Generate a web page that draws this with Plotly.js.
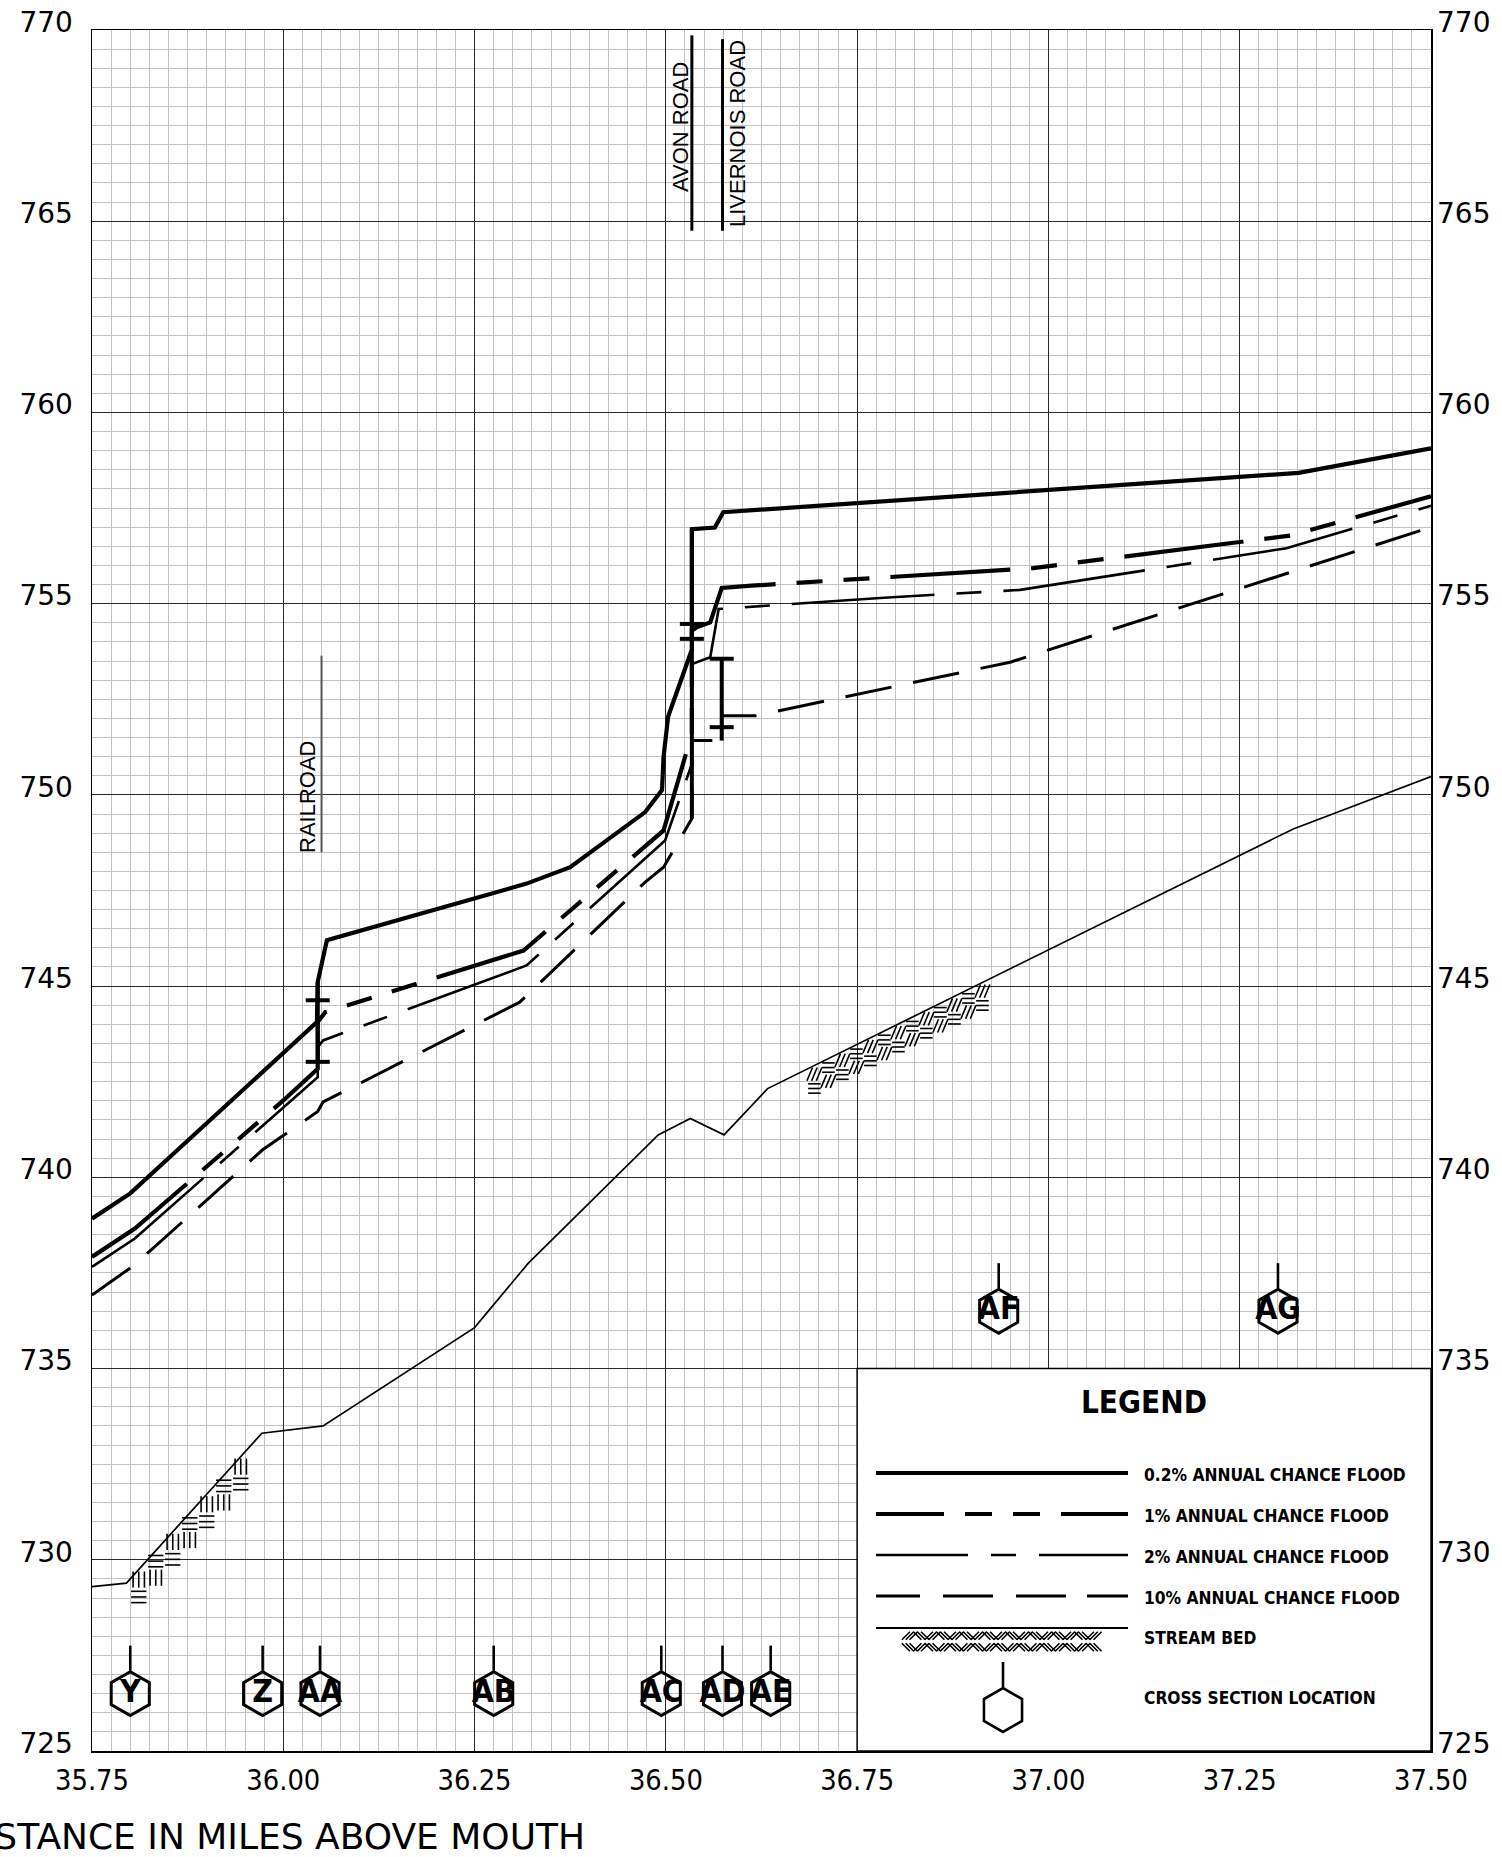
<!DOCTYPE html>
<html>
<head>
<meta charset="utf-8">
<script src="https://cdn.plot.ly/plotly-3.0.1.min.js"></script>
<style>
  html, body { margin: 0; padding: 0; background: #fff; }
  #profile { width: 1502px; height: 1857px; }
</style>
</head>
<body>
<div id="profile"></div>
<script>
// ---- Water-surface profiles (miles above mouth, elevation in feet) ----
const flood02Miles = [35.75, 35.80, 36.044, 36.045, 36.057, 36.318, 36.375, 36.473, 36.495, 36.497, 36.503, 36.534, 36.534, 36.564, 36.575, 37.327, 37.50];
const flood02Elev  = [738.92, 739.58, 744.06, 745.11, 746.20, 747.68, 748.11, 749.55, 750.13, 751.00, 752.05, 753.80, 756.95, 756.99, 757.39, 758.42, 759.06];

const flood1Miles = [35.75, 35.806, 36.0, 36.045, 36.045, 36.055, 36.126, 36.314, 36.497, 36.534, 36.534, 36.540, 36.558, 36.573, 36.612, 36.98, 37.316, 37.50];
const flood1Elev  = [737.92, 738.66, 742.01, 742.84, 744.06, 744.32, 744.76, 745.93, 749.07, 751.60, 754.30, 754.38, 754.51, 755.41, 755.47, 755.93, 756.78, 757.81];

const flood2Miles = [35.75, 35.806, 36.045, 36.045, 36.052, 36.318, 36.499, 36.534, 36.534, 36.558, 36.569, 36.78, 36.963, 37.311, 37.50];
const flood2Elev  = [737.66, 738.40, 742.62, 743.40, 743.58, 745.54, 748.81, 750.81, 753.42, 753.60, 754.86, 755.15, 755.36, 756.45, 757.56];

const flood10Miles = [35.75, 35.805, 35.973, 36.045, 36.052, 36.309, 36.473, 36.497, 36.534, 36.534, 36.573, 36.573, 36.617, 36.95, 37.50];
const flood10Elev  = [736.92, 737.70, 740.72, 741.72, 741.97, 744.58, 747.72, 748.11, 749.38, 751.42, 751.42, 752.07, 752.07, 753.47, 757.00];

// ---- Stream bed ----
const bedMiles = [35.75, 35.795, 35.972, 36.052, 36.25, 36.32, 36.49, 36.532, 36.576, 36.633, 37.32, 37.50];
const bedElev  = [729.30, 729.39, 733.31, 733.50, 736.07, 737.75, 741.11, 741.54, 741.11, 742.32, 749.11, 750.48];
const bedHatchSpans = [[35.800, 35.975], [36.685, 36.930]];

// ---- Cross sections ----
const xsLabels = ['Y', 'Z', 'AA', 'AB', 'AC', 'AD', 'AE', 'AF', 'AG'];
const xsMiles  = [35.800, 35.973, 36.048, 36.275, 36.494, 36.574, 36.637, 36.935, 37.300];
const xsElev   = [726.5, 726.5, 726.5, 726.5, 726.5, 726.5, 726.5, 736.5, 736.5];

// ---- Roads and structures ----
const roadNames      = ['RAILROAD', 'AVON ROAD', 'LIVERNOIS ROAD'];
const roadMiles      = [36.050, 36.534, 36.574];
const roadLineBottom = [748.50, 764.75, 764.75];
const roadLineTop    = [753.64, 769.86, 769.76];

const structMiles  = [36.045, 36.534, 36.573];
const structBottom = [743.02, 749.38, 751.42];
const structTop    = [745.11, 756.95, 753.56];
const structTicks  = [[744.63, 743.02], [754.47, 754.08], [753.56, 751.77]];

// ---- Axis ticks ----
const xTickVals = [35.75, 36.00, 36.25, 36.50, 36.75, 37.00, 37.25, 37.50];
const xTickText = ['35.75', '36.00', '36.25', '36.50', '36.75', '37.00', '37.25', '37.50'];
const yTickVals = [725, 730, 735, 740, 745, 750, 755, 760, 765, 770];

const legendLabels = ['0.2% ANNUAL CHANCE FLOOD', '1% ANNUAL CHANCE FLOOD', '2% ANNUAL CHANCE FLOOD',
                      '10% ANNUAL CHANCE FLOOD', 'STREAM BED', 'CROSS SECTION LOCATION'];

// ---------------------------------------------------------------------------
const FIG_W = 1502, FIG_H = 1857;
const MARGIN = { l: 92, r: 71, t: 30, b: 106 };
const PW = FIG_W - MARGIN.l - MARGIN.r, PH = FIG_H - MARGIN.t - MARGIN.b;
const XR = [35.75, 37.50], YR = [725, 770];

const pxX = m => MARGIN.l + (m - XR[0]) / (XR[1] - XR[0]) * PW;
const pxY = e => MARGIN.t + (YR[1] - e) / (YR[1] - YR[0]) * PH;
const dX = p => XR[0] + (p - MARGIN.l) / PW * (XR[1] - XR[0]);
const dY = p => YR[1] - (p - MARGIN.t) / PH * (YR[1] - YR[0]);

// font helpers
function fontAvailable(name) {
  const ctx = document.createElement('canvas').getContext('2d');
  const s = 'ANNUAL CHANCE FLOOD 0.2% 1234567890 abcdefg';
  for (const base of ['monospace', 'serif']) {
    ctx.font = '40px ' + base; const w0 = ctx.measureText(s).width;
    ctx.font = '40px "' + name + '", ' + base; const w1 = ctx.measureText(s).width;
    if (Math.abs(w1 - w0) > 0.5) return true;
  }
  return false;
}
function pickFont(list) { for (const f of list) if (fontAvailable(f)) return f; return list[list.length - 1]; }
function fitSize(text, family, weight, width) {
  const ctx = document.createElement('canvas').getContext('2d');
  ctx.font = weight + ' 100px "' + family + '"';
  return 100 * width / ctx.measureText(text).width;
}

const narrow = pickFont(['Liberation Sans Narrow', 'DejaVu Sans Condensed', 'Liberation Sans']);
const narrowStack = '"' + narrow + '", "Liberation Sans", sans-serif';
const legendSize = Math.min(fitSize(legendLabels[0], narrow, 'bold', 262), 21);
const hexSize = Math.min(fitSize('AB', narrow, 'bold', 44), 33);
const legendTitleSize = Math.min(fitSize('LEGEND', narrow, 'bold', 126), 34);

const tickFam = pickFont(['DejaVu Sans Condensed', 'Liberation Sans Narrow', 'DejaVu Sans']);
const xTickSize = Math.min(fitSize('35.75', tickFam, 'normal', 74), 31);

function lineTrace(xs, ys, width, dash, color) {
  return {
    type: 'scatter', mode: 'lines', x: xs, y: ys,
    line: { color: color || '#000', width: width, dash: dash || 'solid' },
    hoverinfo: 'skip', showlegend: false
  };
}

// bed line interpolated in pixel space
function bedPxY(px) {
  const xs = bedMiles.map(pxX), ys = bedElev.map(pxY);
  for (let i = 0; i < xs.length - 1; i++) {
    if (px >= xs[i] && px <= xs[i + 1]) {
      const t = (px - xs[i]) / (xs[i + 1] - xs[i]);
      return ys[i] + t * (ys[i + 1] - ys[i]);
    }
  }
  return ys[ys.length - 1];
}

// earth-style hatch: checkerboard of stroke groups hanging under a line
function hatch(pxStart, pxEnd, topFn, cell, rows, mode, slant, out) {
  for (let i = 0; ; i++) {
    const cx = pxStart + i * cell;
    if (cx + cell > pxEnd) break;
    const top = topFn(cx + cell * 0.5) + 2;
    for (let r = 0; r < rows; r++) {
      const cy = top + r * cell;
      const typeA = (i + r) % 2 === 0;
      for (let k = 0; k < 3; k++) {
        const o = (k + 0.5) * cell / 3;
        let a, b;
        if (mode === 'diag') {
          if (typeA) { a = [o - cell * 0.35, cy + cell * 0.85]; b = [o + cell * 0.35, cy + cell * 0.15]; }
          else       { a = [o - cell * 0.35, cy + cell * 0.15]; b = [o + cell * 0.35, cy + cell * 0.85]; }
          a[0] += cx; b[0] += cx;
        } else {
          if (typeA) { a = [cx + o + slant * cell * 0.5, cy]; b = [cx + o - slant * cell * 0.5, cy + cell * 0.95]; }
          else       { a = [cx + cell * 0.05, cy + o]; b = [cx + cell * 0.95, cy + o]; }
        }
        out.x.push(dX(a[0]), dX(b[0]), null);
        out.y.push(dY(a[1]), dY(b[1]), null);
      }
    }
  }
}

const data = [];

// ---- stream bed with hatching ----
const bedHatch = { x: [], y: [] };
hatch(pxX(bedHatchSpans[0][0]), pxX(bedHatchSpans[0][1]), bedPxY, 17, 2, 'ortho', 0, bedHatch);
hatch(pxX(bedHatchSpans[1][0]), pxX(bedHatchSpans[1][1]), bedPxY, 14, 2, 'ortho', 0.4, bedHatch);

// legend geometry (pixels)
const LG = { x0: 876, x1: 1128, text: 1142, rows: [1473, 1514, 1555, 1596, 1628, 1696], title: [1144, 1402],
             hex: [1003, 1710], stem: [1662, 1687], hatch: [904, 1110] };
hatch(LG.hatch[0], LG.hatch[1], () => LG.rows[4], 11.5, 2, 'diag', 0, bedHatch);

data.push(lineTrace(bedHatch.x, bedHatch.y, 1.6));
data.push(lineTrace(bedMiles, bedElev, 1.7));

// ---- flood profiles ----
const DASH10 = '47px,22px', DASH2 = '143px,22px,25px,22px', DASH1 = '120px,21px,26px,21px,26px,21px';
data.push(lineTrace(flood10Miles, flood10Elev, 3.0, DASH10));
data.push(lineTrace(flood2Miles, flood2Elev, 2.6, DASH2));
data.push(lineTrace(flood1Miles, flood1Elev, 4.2, DASH1));
data.push(lineTrace(flood02Miles, flood02Elev, 4.2));

// ---- structures ----
const st = { x: [], y: [] };
const tickHalf = 12 / PW * (XR[1] - XR[0]);
structMiles.forEach((m, i) => {
  st.x.push(m, m, null); st.y.push(structBottom[i], structTop[i], null);
  structTicks[i].forEach(e => { st.x.push(m - tickHalf, m + tickHalf, null); st.y.push(e, e, null); });
});
data.push(lineTrace(st.x, st.y, 4));

// ---- road leader lines ----
data.push(lineTrace([roadMiles[0], roadMiles[0]], [roadLineBottom[0], roadLineTop[0]], 2, 'solid', '#555'));
const rl = { x: [], y: [] };
for (let i = 1; i < roadMiles.length; i++) { rl.x.push(roadMiles[i], roadMiles[i], null); rl.y.push(roadLineBottom[i], roadLineTop[i], null); }
data.push(lineTrace(rl.x, rl.y, 3));

// ---- cross-section symbols ----
const stems = { x: [], y: [] };
xsMiles.forEach((m, i) => {
  const c = pxY(xsElev[i]);
  stems.x.push(m, m, null); stems.y.push(dY(c - 23), dY(c - 48), null);
});
stems.x.push(dX(LG.hex[0]), dX(LG.hex[0]), null); stems.y.push(dY(LG.stem[0]), dY(LG.stem[1]), null);
data.push(lineTrace(stems.x, stems.y, 2.6));

data.push({
  type: 'scatter', mode: 'markers+text', x: xsMiles, y: xsElev, text: xsLabels,
  textposition: 'middle center',
  textfont: { family: narrowStack, size: hexSize, color: '#000', weight: 'bold' },
  marker: { symbol: 'hexagon-open', size: 44, color: '#000', line: { width: 3, color: '#000' } },
  hoverinfo: 'skip', showlegend: false, cliponaxis: false
});
data.push({
  type: 'scatter', mode: 'markers', x: [dX(LG.hex[0])], y: [dY(LG.hex[1])],
  marker: { symbol: 'hexagon-open', size: 44, color: '#000', line: { width: 2.6, color: '#000' } },
  hoverinfo: 'skip', showlegend: false
});

// ---- legend samples ----
const lx = [dX(LG.x0), dX(LG.x1)];
const ly = r => [dY(LG.rows[r]), dY(LG.rows[r])];
data.push(lineTrace(lx, ly(0), 4.2));
data.push(lineTrace(lx, ly(1), 4.2, '68px,21px,27px,21px,27px,21px,90px'));
data.push(lineTrace(lx, ly(2), 2.6, '92px,23px,25px,23px,100px'));
data.push(lineTrace(lx, ly(3), 2.8, '44px,23px,50px,23px,50px,21px,60px'));
data.push(lineTrace(lx, ly(4), 2.2));

// right-hand elevation axis
data.push({ type: 'scatter', mode: 'markers', x: [XR[0]], y: [YR[0]], yaxis: 'y2',
            marker: { opacity: 0 }, hoverinfo: 'skip', showlegend: false });

// ---- annotations ----
const annotations = [];
const roadLabelPos = [[307, 797], [680.5, 127.5], [737, 134]];
roadNames.forEach((n, i) => annotations.push({
  x: dX(roadLabelPos[i][0]), y: dY(roadLabelPos[i][1]), xref: 'x', yref: 'y', text: n, showarrow: false,
  textangle: -90, xanchor: 'center', yanchor: 'middle',
  font: { family: '"Liberation Sans", Arial, sans-serif', size: 22, color: '#000' }
}));
annotations.push({
  x: dX(LG.title[0]), y: dY(LG.title[1]), xref: 'x', yref: 'y', text: 'LEGEND', showarrow: false,
  xanchor: 'center', yanchor: 'middle',
  font: { family: narrowStack, size: legendTitleSize, color: '#000', weight: 'bold' }
});
legendLabels.forEach((t, i) => annotations.push({
  x: dX(LG.text), y: dY(LG.rows[i] + (i === 4 ? 10 : 2)), xref: 'x', yref: 'y', text: t, showarrow: false,
  xanchor: 'left', yanchor: 'middle',
  font: { family: narrowStack, size: legendSize, color: '#000', weight: 'bold' }
}));
annotations.push({
  x: (587 - MARGIN.l) / PW, y: -(1836 - (FIG_H - MARGIN.b)) / PH, xref: 'paper', yref: 'paper',
  text: 'DISTANCE IN MILES ABOVE MOUTH', showarrow: false, xanchor: 'right', yanchor: 'middle',
  font: { family: '"DejaVu Sans", sans-serif', size: 36, color: '#000' }
});

const tickFontY = { family: '"DejaVu Sans", sans-serif', size: 28, color: '#000' };

const layout = {
  width: FIG_W, height: FIG_H, margin: MARGIN,
  paper_bgcolor: '#fff', plot_bgcolor: '#fff', showlegend: false,
  xaxis: {
    range: XR, tickmode: 'array', tickvals: xTickVals, ticktext: xTickText, ticks: '',
    showgrid: true, gridcolor: '#2a2a2a', gridwidth: 1, zeroline: false,
    showline: true, linecolor: '#000', linewidth: 1.5, mirror: true,
    ticklabelstandoff: 3,
    tickfont: { family: '"' + tickFam + '", "DejaVu Sans", sans-serif', size: xTickSize, color: '#000' },
    minor: { dtick: 0.025, tick0: 35.75, showgrid: true, gridcolor: '#c2c2c2', gridwidth: 1, ticks: '' },
    fixedrange: true
  },
  yaxis: {
    range: YR, tickmode: 'array', tickvals: yTickVals, ticks: '',
    showgrid: true, gridcolor: '#2a2a2a', gridwidth: 1, zeroline: false,
    showline: true, linecolor: '#000', linewidth: 1.5, mirror: true,
    ticklabelstandoff: 12, ticklabelshift: -8, tickfont: tickFontY,
    minor: { dtick: 0.5, tick0: 725, showgrid: true, gridcolor: '#c2c2c2', gridwidth: 1, ticks: '' },
    fixedrange: true
  },
  yaxis2: {
    range: YR, overlaying: 'y', side: 'right', tickmode: 'array', tickvals: yTickVals, ticks: '',
    showgrid: false, zeroline: false, showline: false,
    ticklabelstandoff: 5, ticklabelshift: -8, tickfont: tickFontY, fixedrange: true
  },
  shapes: [{
    type: 'rect', xref: 'x', yref: 'y', x0: 36.75, x1: 37.50, y0: 725, y1: 735,
    fillcolor: '#fff', line: { color: '#000', width: 1.5 }, layer: 'between'
  }],
  annotations: annotations
};

Plotly.newPlot('profile', data, layout, { staticPlot: true, displayModeBar: false });
</script>
</body>
</html>
